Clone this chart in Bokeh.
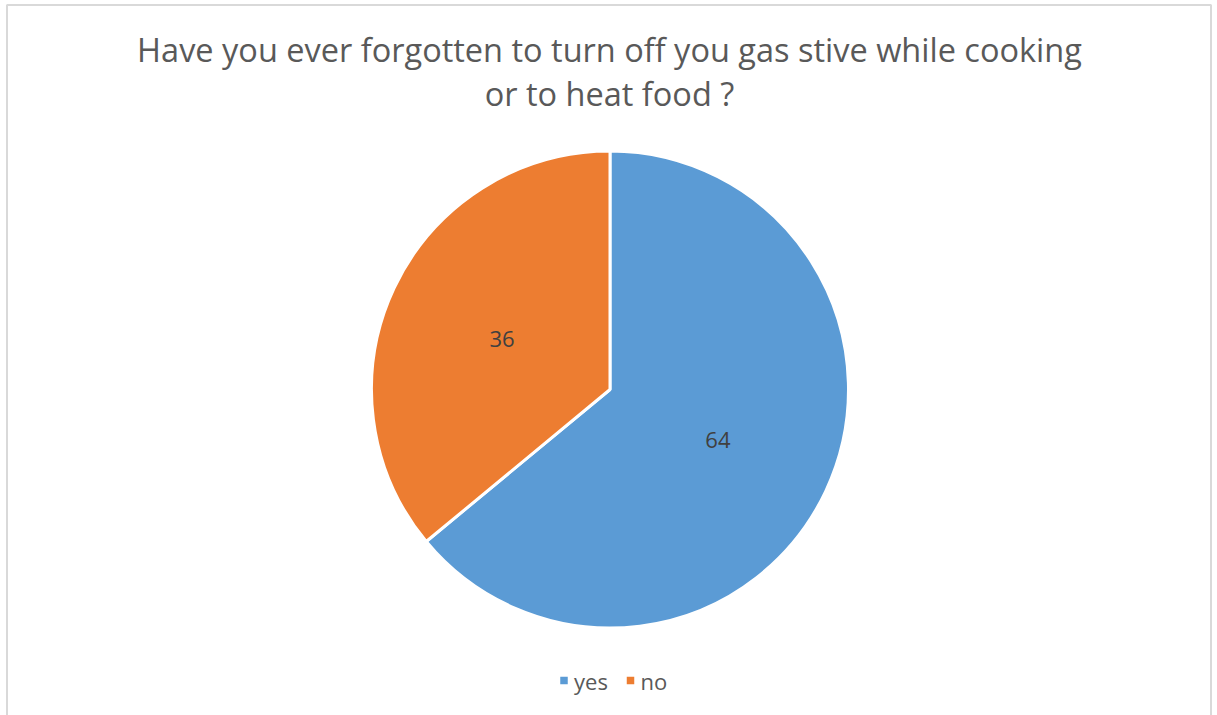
import math
from bokeh.plotting import figure
from bokeh.models import Range1d, ColumnDataSource
from bokeh.core.properties import value
from bokeh.embed import file_html
from bokeh.resources import INLINE

# Survey answers
categories = ["yes", "no"]
counts = [64, 36]
colors = ["#5B9BD5", "#ED7D31"]
title_lines = [
    "Have you ever forgotten to turn off you gas stive while cooking",
    "or to heat food ?",
]

W, H = 1217, 715
TEXT = "#595959"
FONT = "Open Sans"

p = figure(width=W, height=H, x_range=Range1d(0, W), y_range=Range1d(0, H),
           output_backend="svg", toolbar_location=None, min_border=0)
p.axis.visible = False
p.grid.visible = False
p.outline_line_color = None
p.background_fill_color = "white"
p.border_fill_color = "white"

# chart-area frame
p.quad(left=[6.5], right=[1210.5], top=[H - 4.5], bottom=[-10],
       fill_color=None, line_color="#D9D9D9", line_width=2)

# pie geometry
cx, cy, r = 609.5, H - 389, 238.5
total = sum(counts)
start, end, mid = [], [], []
acc = 0.0
for c in counts:
    a0 = math.pi / 2 - 2 * math.pi * acc / total
    acc += c
    a1 = math.pi / 2 - 2 * math.pi * acc / total
    # counter-clockwise drawing: from the later angle to the earlier one
    start.append(a1)
    end.append(a0)
    mid.append((a0 + a1) / 2)

src = ColumnDataSource(dict(cat=categories, val=counts, color=colors,
                            start=start, end=end,
                            lx=[cx + 0.5 * r * math.cos(m) for m in mid],
                            ly=[cy + 0.5 * r * math.sin(m) for m in mid],
                            lab=[str(v) for v in counts]))

p.wedge(x=cx, y=cy, radius=r, start_angle="start", end_angle="end",
        fill_color="color", line_color="white", line_width=3, source=src)

p.text(x="lx", y="ly", text="lab", source=src, text_font=value(FONT),
       text_font_size="22px", text_color="#404040",
       text_align="center", text_baseline="middle")

# title
p.text(x=[609, 609], y=[H - 49, H - 93], text=title_lines,
       text_font=value(FONT), text_font_size="32.5px", text_color=TEXT,
       text_align="center", text_baseline="middle")

# legend
leg_x = [563.5, 630]
leg_y = H - 680
p.scatter(x=leg_x, y=[leg_y] * 2, marker="square", size=7.5,
          fill_color=colors, line_color=None)
p.text(x=[x + 10 for x in leg_x], y=[leg_y] * 2, text=categories,
       text_font=value(FONT), text_font_size="22px", text_color=TEXT,
       text_align="left", text_baseline="middle")

open("out.html", "w").write(file_html(p, INLINE))
